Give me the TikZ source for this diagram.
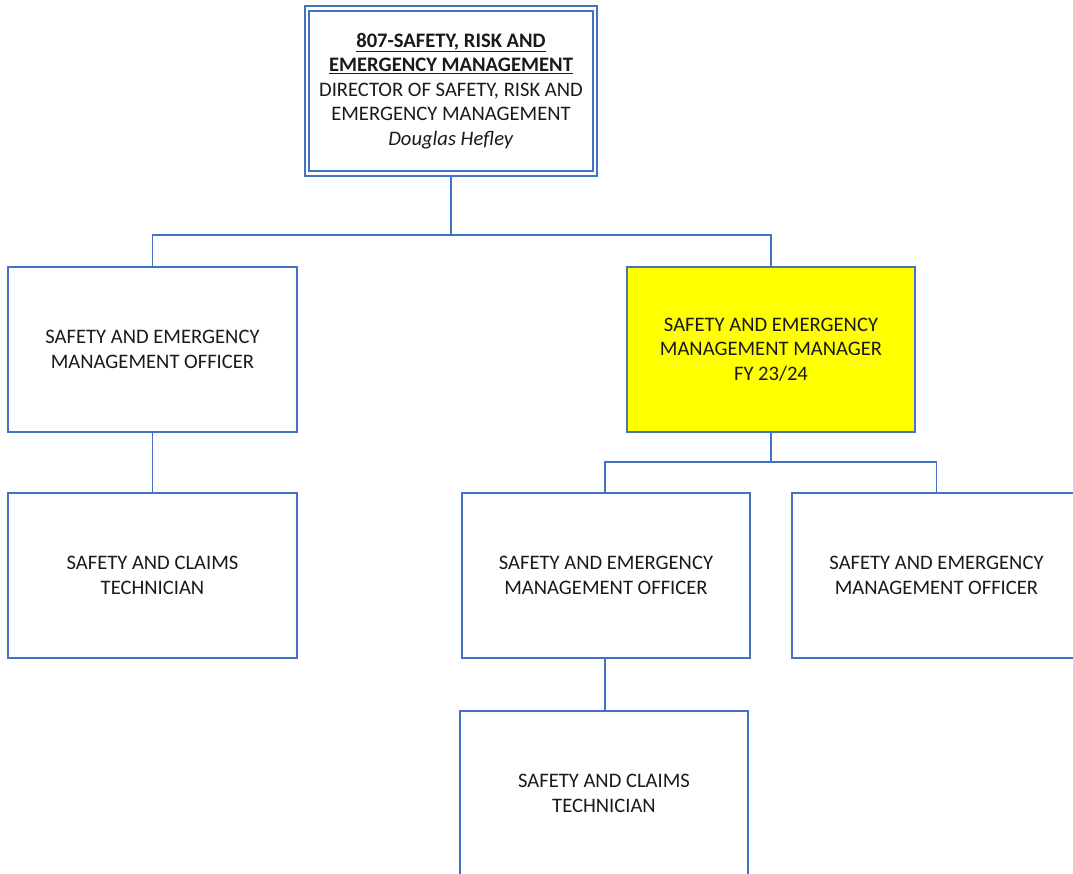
\documentclass[tikz,border=0pt]{standalone}
\usepackage{fontspec}
\setmainfont{Carlito}
\definecolor{lineblue}{RGB}{68,114,196}
\definecolor{txt}{RGB}{26,26,26}
\definecolor{hl}{RGB}{255,255,0}
\begin{document}
\begin{tikzpicture}[x=1pt,y=-1pt,
  box/.style={draw=lineblue, line width=1.5pt, minimum width=289pt, minimum height=165pt,
    align=center, font=\fontsize{20.6}{24.5}\selectfont, text=txt, inner sep=0pt, fill=white},
  conn/.style={draw=lineblue, line width=1.5pt}]
\useasboundingbox (0,0) rectangle (1073,873);
\clip (0,0) rectangle (1073,873);
\fill[white] (0,0) rectangle (1073,873);
% top box
\node[box, minimum width=288pt, line width=1.8pt, double=white, double distance=2.8pt] (top) at (451,91)
  {\textbf{\underline{807-SAFETY, RISK AND}}\\\textbf{\underline{EMERGENCY MANAGEMENT}}\\DIRECTOR OF SAFETY, RISK AND\\EMERGENCY MANAGEMENT\\\textit{Douglas Hefley}};
\node[box] (lo) at (152.5,349.5) {SAFETY AND EMERGENCY\\MANAGEMENT OFFICER};
\node[box, minimum width=288pt, fill=hl] (yel) at (771,349.5) {SAFETY AND EMERGENCY\\MANAGEMENT MANAGER\\FY 23/24};
\node[box] (lt) at (152.5,575.5) {SAFETY AND CLAIMS\\TECHNICIAN};
\node[box, minimum width=288pt] (mo) at (606,575.5) {SAFETY AND EMERGENCY\\MANAGEMENT OFFICER};
\node[box] (ro) at (936.5,575.5) {SAFETY AND EMERGENCY\\MANAGEMENT OFFICER};
\node[box, minimum width=288pt] (bt) at (604,793.5) {SAFETY AND CLAIMS\\TECHNICIAN};
% connectors
\coordinate (tb) at ([yshift=-2.5pt]top.south);
\path (tb) ++(0,58) coordinate (j1);
\draw[conn] (tb) -- (j1) -| (lo.north);
\draw[conn] (j1) -| (yel.north);
\draw[conn] (lo.south) -- (lt.north);
\path (yel.south) ++(0,29) coordinate (j2);
\draw[conn] (yel.south) -- (j2) -| ([xshift=-1pt]mo.north);
\draw[conn] (j2) -| (ro.north);
\draw[conn] ([xshift=-1pt]mo.south) -- ([xshift=-1pt]mo.south |- bt.north);
\end{tikzpicture}
\end{document}
